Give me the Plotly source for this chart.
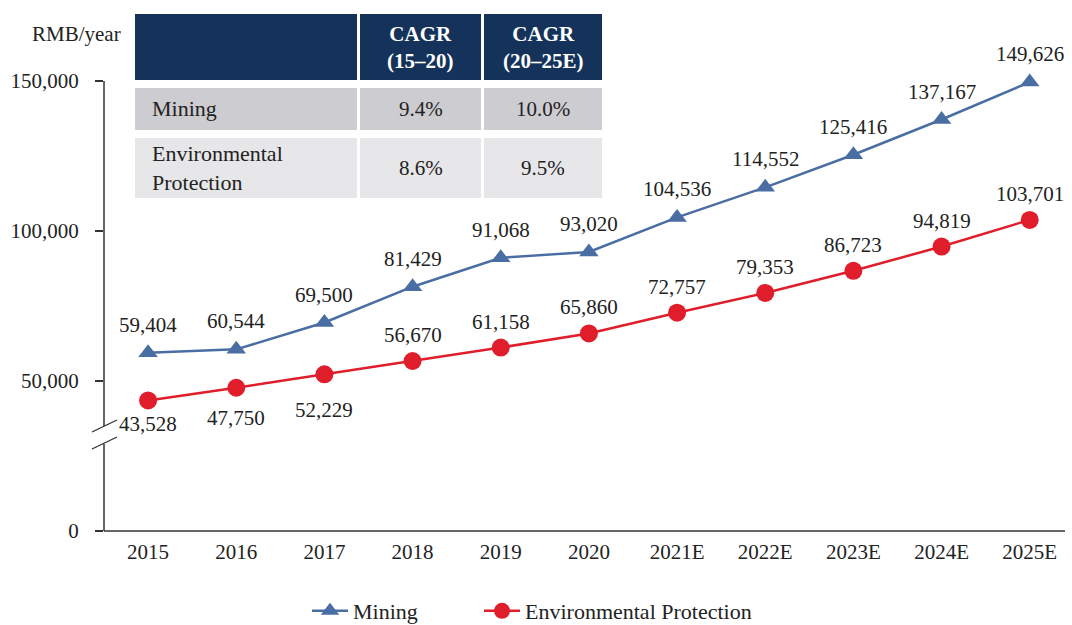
import plotly.graph_objects as go

years = ["2015", "2016", "2017", "2018", "2019", "2020", "2021E", "2022E", "2023E", "2024E", "2025E"]
mining = [59404, 60544, 69500, 81429, 91068, 93020, 104536, 114552, 125416, 137167, 149626]
env = [43528, 47750, 52229, 56670, 61158, 65860, 72757, 79353, 86723, 94819, 103701]
env_label_shift = [-24, -30, -36, 26, 26, 26, 26, 26, 26, 26, 26]
mining_label_shift = 28

table_cols = ["", "CAGR<br>(15–20)", "CAGR<br>(20–25E)"]
table_rows = [["Mining", "9.4%", "10.0%"],
              ["Environmental<br>Protection", "8.6%", "9.5%"]]

yticks = [0, 50000, 100000, 150000]
yticktext = ["0", "50,000", "100,000", "150,000"]

BLUE = "#4a6ea3"
RED = "#e01e2b"
NAVY = "#14325a"
FONT = "Liberation Serif"
TXT = "#222222"
W, H = 1072, 625
L, R, T, B = 104, 7, 60, 94
PW, PH = W - L - R, H - T - B


def PX(px):
    return (px - L) / PW


def PY(py):
    return (H - B - py) / PH


fig = go.Figure()
fig.add_trace(go.Scatter(x=years, y=mining, mode="lines+markers", name="Mining",
                         line=dict(color=BLUE, width=2.5),
                         marker=dict(symbol="triangle-up", size=17, color=BLUE),
                         cliponaxis=False, legend="legend"))
fig.add_trace(go.Scatter(x=years, y=env, mode="lines+markers", name="Environmental Protection",
                         line=dict(color=RED, width=2.5),
                         marker=dict(symbol="circle", size=18, color=RED),
                         cliponaxis=False, legend="legend2"))

ann = []
for i, v in enumerate(mining):
    ann.append(dict(x=i, y=v, text=f"{v:,}", showarrow=False, yshift=mining_label_shift,
                    font=dict(size=21, color=TXT, family=FONT)))
for i, (v, s) in enumerate(zip(env, env_label_shift)):
    ann.append(dict(x=i, y=v, text=f"{v:,}", showarrow=False, yshift=s,
                    font=dict(size=21, color=TXT, family=FONT)))

ann.append(dict(xref="paper", yref="paper", x=PX(123), y=PY(34), xanchor="right", yanchor="middle",
                text="RMB/year", showarrow=False, font=dict(size=21, color=TXT, family=FONT)))

shapes = []
# table
col_edges = [(135, 357), (360, 481), (484, 602)]
row_edges = [(14, 80), (88, 130), (138, 198)]
row_fill = [NAVY, "#cdccd0", "#e7e7e9"]
for ri, (y0, y1) in enumerate(row_edges):
    for ci, (x0, x1) in enumerate(col_edges):
        shapes.append(dict(type="rect", xref="paper", yref="paper",
                           x0=PX(x0), x1=PX(x1), y0=PY(y1), y1=PY(y0),
                           fillcolor=row_fill[ri], line=dict(width=0), layer="below"))
        if ri == 0:
            txt = table_cols[ci]
            if txt:
                ann.append(dict(xref="paper", yref="paper", x=PX((x0 + x1) / 2), y=PY((y0 + y1) / 2),
                                text=f"<b>{txt}</b>", showarrow=False, xanchor="center", yanchor="middle",
                                font=dict(size=21, color="white", family=FONT)))
        else:
            txt = table_rows[ri - 1][ci]
            if ci == 0:
                ann.append(dict(xref="paper", yref="paper", x=PX(150), y=PY((y0 + y1) / 2),
                                text=txt, showarrow=False, xanchor="left", yanchor="middle", align="left",
                                font=dict(size=22, color=TXT, family=FONT)))
            else:
                ann.append(dict(xref="paper", yref="paper", x=PX((x0 + x1) / 2), y=PY((y0 + y1) / 2),
                                text=txt, showarrow=False, xanchor="center", yanchor="middle",
                                font=dict(size=21, color=TXT, family=FONT)))

# axes lines
AX = "#333333"
shapes.append(dict(type="line", xref="paper", yref="y", x0=0, x1=0, y0=150000, y1=35000,
                   line=dict(color=AX, width=1.5)))
shapes.append(dict(type="line", xref="paper", yref="y", x0=0, x1=0, y0=29000, y1=0,
                   line=dict(color=AX, width=1.5)))
shapes.append(dict(type="line", xref="paper", yref="paper", x0=0, x1=1, y0=0, y1=0,
                   line=dict(color=AX, width=1.5)))
# break slashes
for (xa, ya, xb, yb) in [(92, 432, 117, 420), (92, 449, 117, 437)]:
    shapes.append(dict(type="line", xref="paper", yref="paper", x0=PX(xa), y0=PY(ya), x1=PX(xb), y1=PY(yb),
                       line=dict(color=AX, width=1.3)))

leg_common = dict(orientation="h", xanchor="left", yanchor="middle", y=PY(611),
                  font=dict(size=22, color=TXT, family=FONT), itemwidth=36,
                  bgcolor="rgba(0,0,0,0)")

fig.update_layout(
    width=W, height=H,
    margin=dict(l=L, r=R, t=T, b=B, autoexpand=False),
    plot_bgcolor="white", paper_bgcolor="white",
    font=dict(family=FONT, size=21, color=TXT),
    showlegend=True,
    legend=dict(x=PX(307), **leg_common),
    legend2=dict(x=PX(479), **leg_common),
    xaxis=dict(type="category", range=[-0.5, 10.4], showgrid=False, showline=False, zeroline=False,
               ticks="", tickfont=dict(size=21, family=FONT), ticklabelstandoff=6),
    yaxis=dict(range=[0, 157000], tickvals=yticks, ticktext=yticktext, showgrid=False, showline=False,
               zeroline=False, ticks="outside", ticklen=8, tickwidth=1.5, tickcolor=AX,
               tickfont=dict(size=21, family=FONT), ticklabelstandoff=12),
    annotations=ann,
    shapes=shapes,
)

fig.write_html("out.html", config={"displayModeBar": False},
               post_script="document.body.style.margin='0';document.body.style.overflow='hidden';")
